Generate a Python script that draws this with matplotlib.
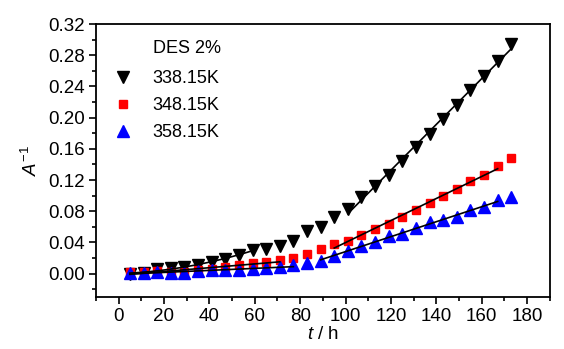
import numpy as np
import matplotlib
matplotlib.use("Agg")
import matplotlib.pyplot as plt
from matplotlib.ticker import MultipleLocator, FormatStrFormatter

plt.rcParams['font.family'] = ['Liberation Sans', 'DejaVu Sans']
plt.rcParams['mathtext.fontset'] = 'custom'
plt.rcParams['mathtext.rm'] = 'Liberation Sans'
plt.rcParams['mathtext.it'] = 'Liberation Sans:italic'

# sampling times (h)
t = [5, 11, 17, 23, 29, 35, 41, 47, 53, 59, 65, 71, 77, 83, 89,
     95, 101, 107, 113, 119, 125, 131, 137, 143, 149, 155, 161, 167, 173]

# inverse absorbance for DES 2% at three temperatures
a_338 = [0.000, 0.001, 0.0056, 0.007, 0.008, 0.011, 0.0146, 0.019, 0.0244, 0.030,
         0.031, 0.035, 0.042, 0.054, 0.060, 0.072, 0.083, 0.098, 0.112, 0.127,
         0.144, 0.162, 0.179, 0.198, 0.216, 0.235, 0.253, 0.273, 0.294]
a_348 = [0.002, 0.002, 0.003, 0.002, 0.002, 0.004, 0.006, 0.008, 0.011, 0.013,
         0.015, 0.017, 0.020, 0.025, 0.032, 0.038, 0.042, 0.050, 0.057, 0.064,
         0.072, 0.082, 0.091, 0.099, 0.109, 0.119, 0.127, 0.1375, 0.148]
a_358 = [0.001, 0.001, 0.002, 0.001, 0.001, 0.003, 0.004, 0.005, 0.005, 0.006,
         0.0073, 0.008, 0.011, 0.013, 0.0167, 0.023, 0.0296, 0.036, 0.040, 0.048,
         0.051, 0.0587, 0.066, 0.069, 0.0724, 0.081, 0.086, 0.0938, 0.098]

labels = ['338.15K', '348.15K', '358.15K']

# fit ranges: (series, first t, last t, polynomial order)
fits = [
    (a_338, 5, 59, 2),
    (a_338, 101, 173, 1),
    (a_348, 5, 71, 1),
    (a_348, 95, 167, 1),
    (a_358, 5, 77, 1),
    (a_358, 89, 167, 1),
]

t = np.array(t)
fig = plt.figure(figsize=(5.64, 3.49), dpi=100)
ax = fig.add_axes([0.170, 0.149, 0.805, 0.782])

ax.plot(t, a_338, 'v', color='black', ms=8, label=labels[0], zorder=3)
ax.plot(t, a_348, 's', color='#ff0000', ms=6, label=labels[1], zorder=3)
ax.plot(t, a_358, '^', color='#0000ff', ms=8, label=labels[2], zorder=3)

for y, t0, t1, order in fits:
    y = np.array(y)
    m = (t >= t0) & (t <= t1)
    p = np.polyfit(t[m], y[m], order)
    tt = np.linspace(t0, t1, 50)
    ax.plot(tt, np.polyval(p, tt), '-', color='black', lw=1.2, zorder=4)

ax.set_xlim(-10, 190)
ax.set_ylim(-0.03, 0.32)
ax.xaxis.set_major_locator(MultipleLocator(20))
ax.xaxis.set_minor_locator(MultipleLocator(10))
ax.yaxis.set_major_locator(MultipleLocator(0.04))
ax.yaxis.set_minor_locator(MultipleLocator(0.02))
ax.yaxis.set_major_formatter(FormatStrFormatter('%.2f'))
ax.tick_params(which='both', direction='out', top=False, right=False,
               labelsize=13.5, width=1.2, pad=3)
ax.tick_params(which='major', length=5)
ax.tick_params(which='minor', length=3)
for s in ax.spines.values():
    s.set_linewidth(1.3)

ax.set_xlabel(r'$\mathit{t}$ / h', fontsize=13.5, labelpad=1)
ax.set_ylabel(r'$\mathit{A}^{-1}$', fontsize=13.5, labelpad=5)

ax.text(0.1256, 0.912, 'DES 2%', transform=ax.transAxes, fontsize=13,
        ha='left', va='center')
ax.legend(loc='upper left', bbox_to_anchor=(0.02, 0.858), frameon=False,
          fontsize=13, labelspacing=0.56, handletextpad=1.05,
          handlelength=1.2, borderaxespad=0)

fig.savefig('out.png', dpi=100)
